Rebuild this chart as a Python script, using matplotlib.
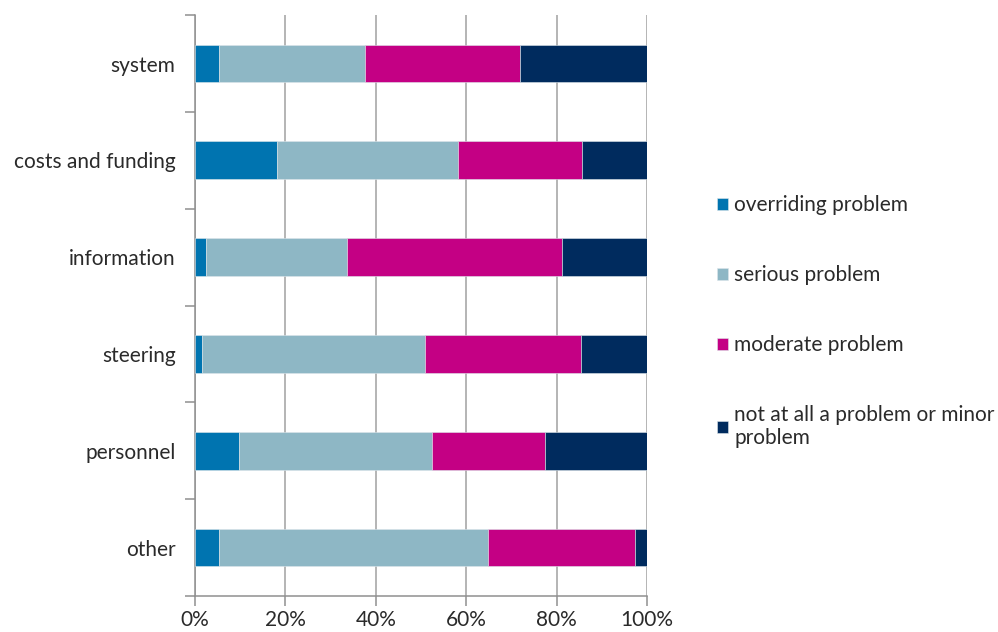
import matplotlib
matplotlib.use("Agg")
import matplotlib.pyplot as plt
import numpy as np

plt.rcParams['font.family'] = ['Lato', 'DejaVu Sans']

categories = ["system", "costs and funding", "information", "steering", "personnel", "other"]
overriding = [5.2, 18.2, 2.4, 1.5, 9.7, 5.4]
serious = [32.4, 39.9, 31.3, 49.3, 42.8, 59.4]
moderate = [34.4, 27.6, 47.6, 34.5, 25.0, 32.6]
not_minor = [28.0, 14.3, 18.7, 14.7, 22.5, 2.6]

series = [
    ("overriding problem", overriding, "#0074B0"),
    ("serious problem", serious, "#8EB7C5"),
    ("moderate problem", moderate, "#C40084"),
    ("not at all a problem or minor\nproblem", not_minor, "#002B5E"),
]

fig = plt.figure(figsize=(9.98, 6.32), dpi=100)
ax = fig.add_axes([0.1954, 0.057, 0.4529, 0.919])

y = np.arange(len(categories))
left = np.zeros(len(categories))
for label, vals, color in series:
    ax.barh(y, vals, left=left, height=0.39, color=color, label=label,
            edgecolor="#dde6ea", linewidth=0.4, zorder=3)
    left += np.array(vals)

ax.set_xlim(0, 100)
ax.set_ylim(len(categories) - 0.5, -0.5)
ax.set_xticks(np.arange(0, 101, 20))
ax.set_xticklabels([f"{v}%" for v in range(0, 101, 20)], fontsize=15, color="#2a2a2a")
ax.grid(axis="x", color="#a0a0a0", linewidth=1.1, zorder=0)

# tick marks between categories, labels at the centres
ax.set_yticks(np.arange(-0.5, len(categories), 1.0))
ax.set_yticklabels([])
ax.set_yticks(y, minor=True)
ax.set_yticklabels(categories, minor=True, fontsize=15, color="#2a2a2a")
ax.tick_params(axis="y", which="minor", length=0, pad=14)
ax.tick_params(axis="y", which="major", length=7, color="#909090", width=1.1)
ax.tick_params(axis="x", length=7, color="#909090", width=1.1, pad=3)

for s in ["top", "right"]:
    ax.spines[s].set_visible(False)
for s in ["left", "bottom"]:
    ax.spines[s].set_color("#909090")
    ax.spines[s].set_linewidth(1.1)

fig.legend(loc="upper left", bbox_to_anchor=(0.700, 0.721), frameon=False,
           fontsize=15, handlelength=0.5, handleheight=0.5,
           handletextpad=0.3, labelspacing=2.4, labelcolor="#2a2a2a")

fig.savefig("out.png", dpi=100)
